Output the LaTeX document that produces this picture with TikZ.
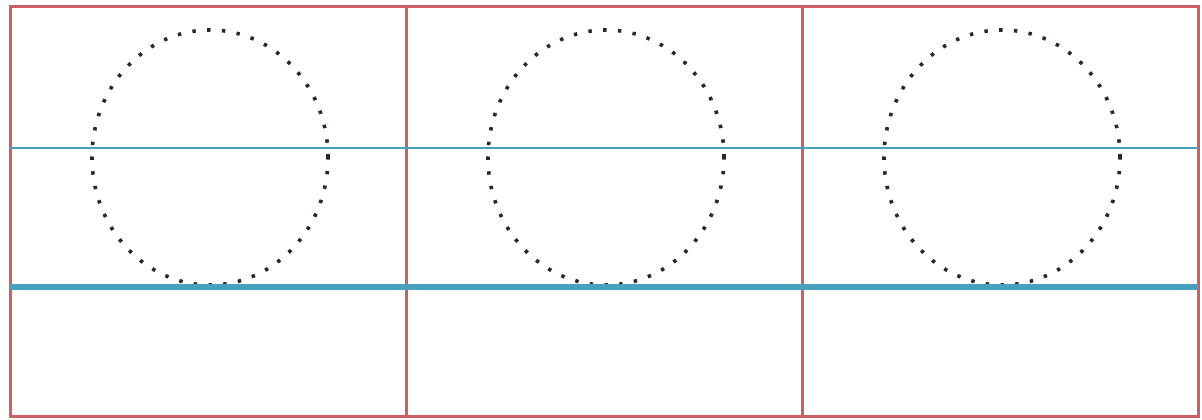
\documentclass[tikz,border=0pt]{standalone}
\usepackage{tikz}
\usetikzlibrary{shapes.geometric}

\definecolor{frame}{RGB}{205,95,100}
\definecolor{water}{RGB}{70,160,190}
\definecolor{dots}{RGB}{35,40,50}

\begin{document}
\begin{tikzpicture}[
  x=1pt,y=-1pt,
  panel/.style={draw=frame,line width=3pt,minimum width=396pt,minimum height=409pt,inner sep=0pt},
  ball/.style={ellipse,draw=dots,line width=3.6pt,dash pattern=on 3.4pt off 11.4pt,
    minimum width=236pt,minimum height=255pt,inner sep=0pt},
  surface/.style={draw=water,line width=1.6pt},
  bed/.style={draw=water,line width=6pt}
]
\useasboundingbox (0,0) rectangle (1202,420);

\node[panel] (p1) at (208,211.5) {};
\node[panel] (p2) at (604,211.5) {};
\node[panel] (p3) at (1000,211.5) {};

\node[ball] (b1) at (210,157.5) {};
\node[ball] (b2) at (606,157.5) {};
\node[ball] (b3) at (1002,157.5) {};

\coordinate (sl) at (10,148);
\coordinate (sr) at (1198,148);
\coordinate (bl) at (10,287);
\coordinate (br) at (1198,287);
\draw[surface] (sl) -- (sr);
\draw[bed] (bl) -- (br);
\end{tikzpicture}
\end{document}
